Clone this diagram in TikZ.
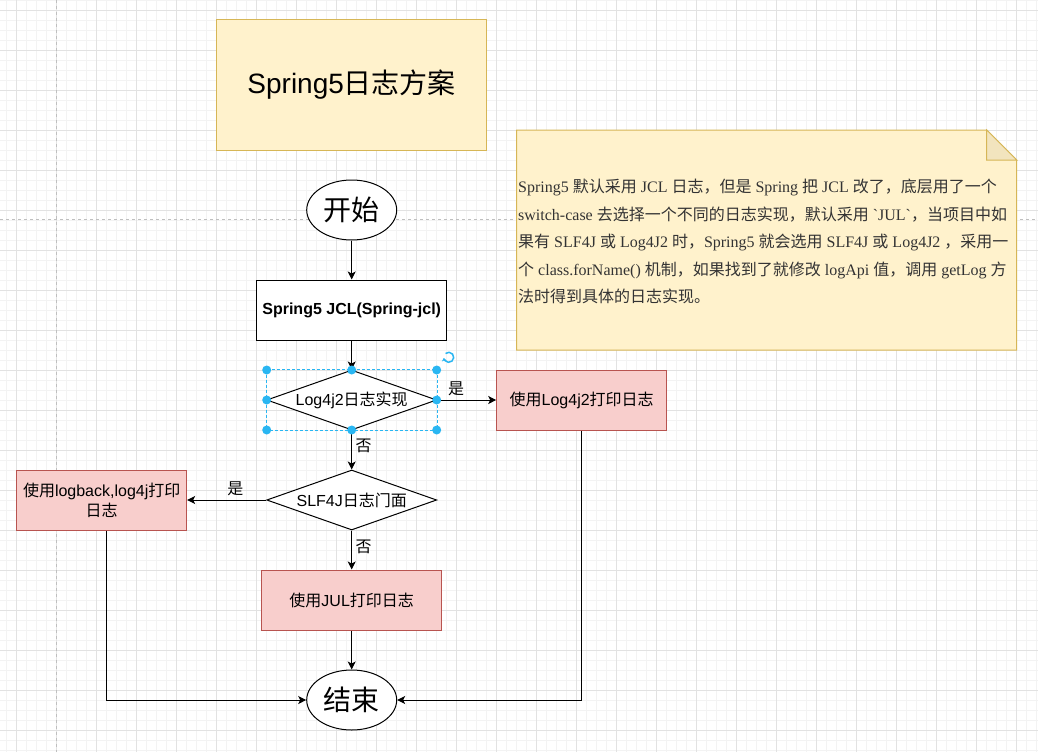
\documentclass[tikz,border=0pt]{standalone}
\usepackage{fontspec}
\setmainfont{Liberation Sans}
\newfontfamily\cjk{Noto Sans CJK SC}
\newfontfamily\notefont{Liberation Serif}
\usepackage{xcolor}
\usetikzlibrary{positioning}
\usetikzlibrary{arrows.meta,shapes.geometric}
\definecolor{yelfill}{HTML}{FFF2CC}
\definecolor{yeldraw}{HTML}{D6B656}
\definecolor{foldfill}{HTML}{F2E4BE}
\definecolor{redfill}{HTML}{F8CECC}
\definecolor{reddraw}{HTML}{B85450}
\definecolor{selblue}{HTML}{29B6F2}
\definecolor{gridmajor}{HTML}{E2E2E2}
\definecolor{gridminor}{HTML}{F3F3F3}
\newcommand{\zh}[1]{{\cjk #1}}
\newcommand{\fsz}[2]{\fontsize{#1}{#2}\selectfont}

\begin{document}
\begin{tikzpicture}[x=1pt,y=1pt,node distance=100pt,on grid,auto,line width=1pt,
  arr/.style={-{Stealth[length=8pt,width=8pt,inset=2pt]}},
  term/.style={draw,fill=white,ellipse,minimum width=90pt,minimum height=60pt,inner sep=0pt,font=\cjk\fsz{28}{34}},
  box/.style={draw,fill=white,rectangle,minimum height=60pt,inner sep=0pt,align=center,font=\fsz{16}{20}},
  redbox/.style={box,fill=redfill,draw=reddraw},
  dia/.style={draw,fill=white,diamond,aspect=2.83,minimum width=170pt,minimum height=60pt,inner sep=0pt,font=\fsz{16}{20}},
  lab/.style={font=\cjk\fsz{16}{19}},
  handle/.style={fill=selblue,draw=none}]
  \useasboundingbox (0,0) rectangle (1038,-752);
  % canvas grid and page breaks
  \fill[white] (0,0) rectangle (1038,-752);
  \draw[gridminor,line width=.6pt,step=10pt,xshift=6.7pt] (-6.7,0) grid (1031.3,-752);
  \draw[gridmajor,line width=.8pt,step=40pt,xshift=16.7pt,yshift=-10pt] (-16.7,10) grid (1021.3,-742);
  \draw[gray!50,line width=.7pt,dash pattern=on 3pt off 3pt] (56.7,0) -- (56.7,-752);
  \draw[gray!50,line width=.7pt,dash pattern=on 3pt off 3pt] (0,-219.3) -- (1038,-219.3);

  \node[draw=yeldraw,fill=yelfill,minimum width=270pt,minimum height=130pt,font=\fsz{28}{34}] (title) at (351.7,-85) {Spring5\zh{日志方案}};

  % note
  \filldraw[fill=yelfill,draw=yeldraw] (516.7,-130) -- (986.7,-130) -- (1016.7,-160) -- (1016.7,-350) -- (516.7,-350) -- cycle;
  \filldraw[fill=foldfill,draw=yeldraw] (986.7,-130) -- (986.7,-160) -- (1016.7,-160) -- cycle;
  \node[anchor=west,align=left,inner sep=0pt,text=black!80,font=\notefont\fsz{16}{27.5}] (txt) at (517.7,-241.7)
    {Spring5 \zh{默认采用} JCL \zh{日志，但是} Spring \zh{把} JCL \zh{改了，底层用了一个}\\
     switch-case \zh{去选择一个不同的日志实现，默认采用} \textasciigrave JUL\textasciigrave\zh{，当项目中如}\\
     \zh{果有} SLF4J \zh{或} Log4J2 \zh{时，}Spring5 \zh{就会选用} SLF4J \zh{或} Log4J2 \zh{，采用一}\\
     \zh{个} class.forName() \zh{机制，如果找到了就修改} logApi \zh{值，调用} getLog \zh{方}\\
     \zh{法时得到具体的日志实现。}};

  \node[term] (start) at (351.7,-210) {开始};
  \node[box,minimum width=190pt,font=\bfseries\fsz{16}{20}] (jcl) [below=of start] {Spring5 JCL(Spring-jcl)};
  \node[dia] (d1) [below=90pt of jcl] {Log4j2\zh{日志实现}};
  \node[redbox,minimum width=170pt] (b1) [right=230pt of d1] {\zh{使用}Log4j2\zh{打印日志}};
  \node[dia] (d2) [below=of d1] {SLF4J\zh{日志门面}};
  \node[redbox,minimum width=170pt] (b2) [left=250pt of d2] {\zh{使用}logback,log4j\zh{打印}\\\zh{日志}};
  \node[redbox,minimum width=180pt] (b3) [below=of d2] {\zh{使用}JUL\zh{打印日志}};
  \node[term] (stop) [below=of b3] {结束};

  \draw[arr] (start) edge (jcl);
  \draw[arr] (jcl) edge (d1);
  \draw[arr] (d1) edge node[lab,pos=.32,above] (y1) {是} (b1);
  \draw[arr] (d1) edge node[lab,pos=.4,right] (n1) {否} (d2);
  \draw[arr] (d2) edge node[lab,pos=.39,above] (y2) {是} (b2);
  \draw[arr] (d2) edge node[lab,pos=.42,right] (n2) {否} (b3);
  \draw[arr] (b3) edge (stop);
  \draw[arr] ([xshift=5pt]b2.south) |- (stop);
  \draw[arr] (b1) |- (stop);

  % selection of d1
  \draw[selblue,line width=.8pt,dash pattern=on 3pt off 2pt] (d1.west |- d1.north) rectangle (d1.east |- d1.south);
  \foreach \hx/\hy in {-85/30,0/30,85/30,-85/0,85/0,-85/-30,0/-30,85/-30}
    \fill[handle] ([shift={(\hx,\hy)}]d1.center) circle (4.5pt);
  \draw[selblue,line width=1.5pt,-{Stealth[length=3pt,width=5pt]}] ([shift={(130:5)}]448.7,-357.3) arc (130:-170:5);
\end{tikzpicture}
\end{document}
